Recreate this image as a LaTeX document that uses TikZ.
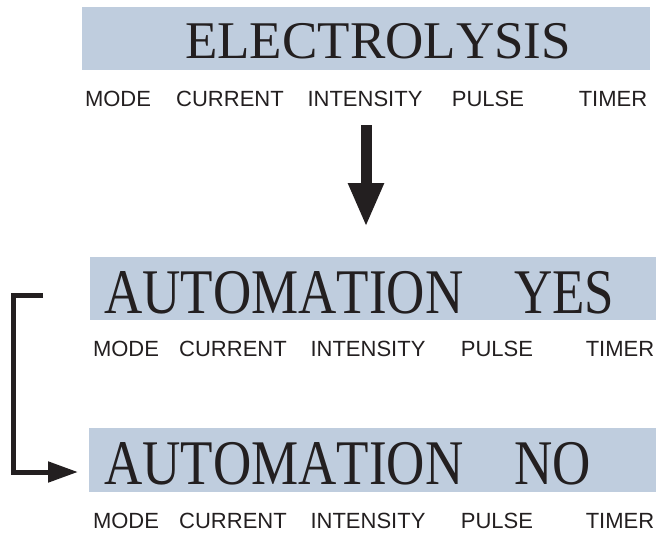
\documentclass[tikz,border=0pt]{standalone}
\usepackage{fontspec}
\setmainfont{Liberation Serif}
\setsansfont{Liberation Sans}
\newfontfamily\bannerfont[Kerning=Off]{Liberation Serif}
\usetikzlibrary{arrows.meta,positioning}

\definecolor{bannerblue}{RGB}{191,205,222}
\definecolor{inkblack}{RGB}{35,31,32}

\tikzset{
    banner/.style = {fill=bannerblue, draw=none, inner sep=0pt, anchor=north west},
    title/.style = {font=\bannerfont\fontsize{53}{53}\selectfont, text=inkblack, inner sep=0pt, anchor=base},
    tall title/.style = {title, anchor=base west, yscale=1.2, transform shape},
    field/.style = {font=\sffamily\fontsize{22}{22}\selectfont, text=inkblack, inner sep=0pt, anchor=base},
    flow/.style = {draw=inkblack, line width=5pt},
}

\begin{document}
\begin{tikzpicture}[x=1pt, y=-1pt]
        \useasboundingbox (0,0) rectangle (656,533);

        % ELECTROLYSIS
        \node[banner, minimum width=568pt, minimum height=63pt] (elec) at (82,7) {};
        \node[title] (electitle) at (378,58) {ELECTROLYSIS};
        \node[field] (mode1) at (118,106) {MODE};
        \node[field] (current1) at (230,106) {CURRENT};
        \node[field] (intensity1) at (365,106) {INTENSITY};
        \node[field] (pulse1) at (488,106) {PULSE};
        \node[field] (timer1) at (613,106) {TIMER};

        % AUTOMATION YES
        \node[banner, minimum width=566pt, minimum height=63pt] (autoyes) at (90,257) {};
        \node[tall title] (autoyestitle) at (104,313) {AUTOMATION};
        \node[tall title] (yes) at (514,313) {YES};
        \node[field] (mode2) at (126,356) {MODE};
        \node[field] (current2) at (233,356) {CURRENT};
        \node[field] (intensity2) at (368,356) {INTENSITY};
        \node[field] (pulse2) at (497,356) {PULSE};
        \node[field] (timer2) at (620,356) {TIMER};

        % AUTOMATION NO
        \node[banner, minimum width=567pt, minimum height=64pt] (autono) at (89,428) {};
        \node[tall title] (autonotitle) at (104,484) {AUTOMATION};
        \node[tall title] (no) at (514,484) {NO};
        \node[field] (mode3) at (126,528) {MODE};
        \node[field] (current3) at (233,528) {CURRENT};
        \node[field] (intensity3) at (368,528) {INTENSITY};
        \node[field] (pulse3) at (497,528) {PULSE};
        \node[field] (timer3) at (620,528) {TIMER};

        % arrows
        \coordinate (down) at (366,125);
        \coordinate (downtip) at (366,227);
        \draw[draw=inkblack, line width=11pt, -{Triangle[length=44pt, width=33pt]}] (down) -- (downtip);

        \coordinate (loopstart) at (43,295);
        \coordinate (looptip) at (78,472);
        \draw[flow, -{Triangle[length=30pt, width=20pt]}] (loopstart) -| ([xshift=-65pt]looptip) -- (looptip);
    \end{tikzpicture}
\end{document}
